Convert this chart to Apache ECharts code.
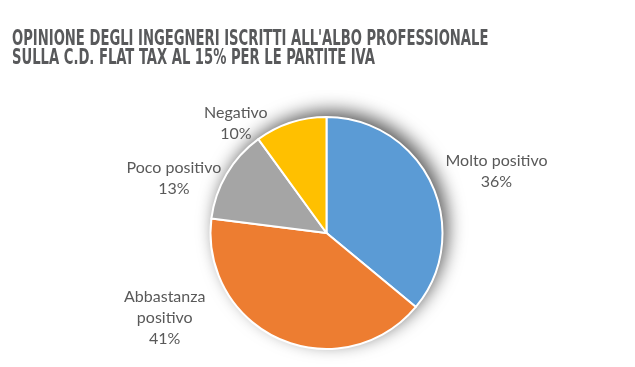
<!DOCTYPE html>
<html><head><meta charset="utf-8">
<script src="https://cdn.jsdelivr.net/npm/echarts@6/dist/echarts.min.js"></script>
<style>html,body{margin:0;padding:0;background:#fff}#c{width:635px;height:367px}</style>
</head><body><div id="c"></div>
<script>
const titleLines = ["OPINIONE DEGLI INGEGNERI ISCRITTI ALL'ALBO PROFESSIONALE", "SULLA C.D. FLAT TAX AL 15% PER LE PARTITE IVA"];
const categories = ["Molto positivo", "Abbastanza\npositivo", "Poco positivo", "Negativo"];
const values = [36, 41, 13, 10];
const colors = ["#5B9BD5", "#ED7D31", "#A5A5A5", "#FFC000"];
const labelShift = [[9, -12], [-70, -17], [-5, 5], [-18, 1]];

const chart = echarts.init(document.getElementById('c'), null, {renderer: 'canvas'});
const center = [326.5, 233];
const radius = 116;
chart.setOption({
  animation: false,
  graphic: titleLines.map((t, i) => ({
    type: 'text', left: 12, top: 29 + i * 19, scaleX: 0.697, originX: 0,
    style: {text: t, fill: '#58595b', font: 'bold 21px "Liberation Sans Narrow", "DejaVu Sans Condensed", "Liberation Sans"'}
  })),
  series: [
    {
      type: 'pie', center: center, radius: radius, silent: true, z: 1,
      label: {show: false}, labelLine: {show: false},
      itemStyle: {color: '#fff', shadowBlur: 18, shadowColor: 'rgba(0,0,0,0.65)', shadowOffsetX: 5, shadowOffsetY: -6},
      data: [{value: 1, name: ''}]
    },
    {
      type: 'pie', center: center, radius: radius, startAngle: 90, clockwise: true, z: 2,
      itemStyle: {borderColor: '#fff', borderWidth: 2},
      label: {
        show: true, position: 'outside', formatter: p => p.name + '\n' + p.value + '%',
        color: '#595959', fontSize: 16, lineHeight: 21, fontFamily: 'Lato'
      },
      labelLine: {show: false, length: 0, length2: 0},
      labelLayout: function (p) {
        const s = labelShift[p.dataIndex];
        return {x: p.labelRect.x + p.labelRect.width / 2 + s[0], y: p.labelRect.y + p.labelRect.height / 2 + s[1], align: 'center', verticalAlign: 'middle'};
      },
      data: categories.map((c, i) => ({name: c, value: values[i], itemStyle: {color: colors[i]}}))
    }
  ]
});
</script></body></html>
